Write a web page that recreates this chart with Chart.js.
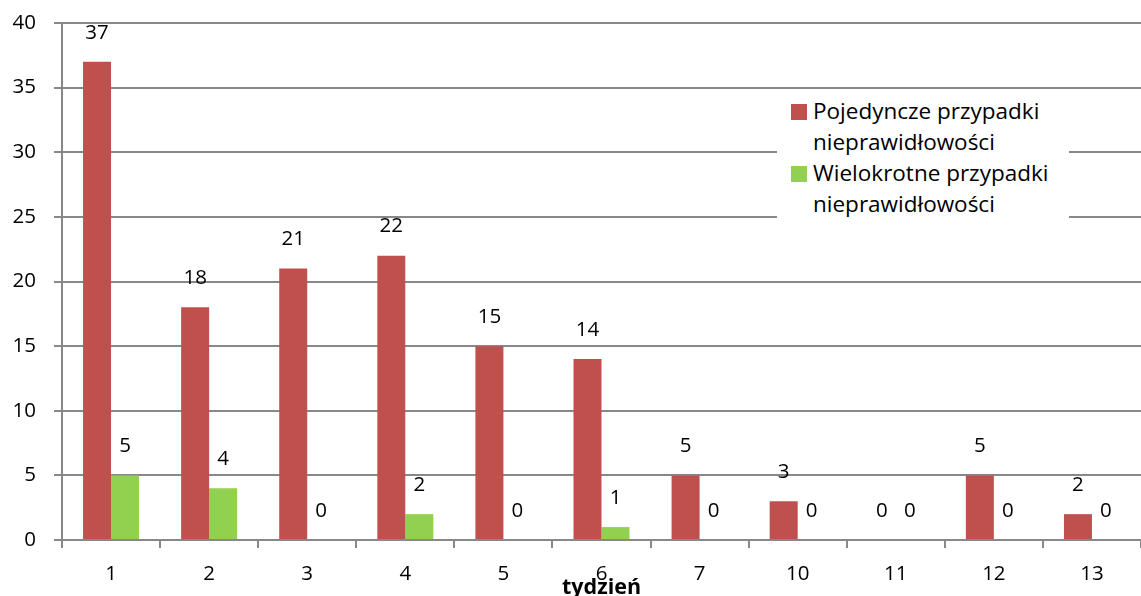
<!DOCTYPE html>
<html>
<head>
<meta charset="utf-8">
<script src="https://cdn.jsdelivr.net/npm/chart.js@4"></script>
<style>
  body { margin: 0; background: #fff; }
  #wrap { position: relative; width: 1141px; height: 596px; }
  #legend {
    position: absolute; left: 777px; top: 91px; width: 292px; height: 132px;
    background: #fff; font-family: "Open Sans", sans-serif; font-size: 22.5px; color: #000;
    line-height: 31px; padding-top: 4px; box-sizing: border-box;
  }
  .item { position: relative; padding-left: 36px; }
  .box { position: absolute; left: 14px; top: 9px; width: 16px; height: 16px; }
</style>
</head>
<body>
<div id="wrap">
  <canvas id="myChart" width="1141" height="596"></canvas>
  <div id="legend">
    <div class="item"><span class="box" style="background:#C0504D"></span>Pojedyncze przypadki<br>nieprawidłowości</div>
    <div class="item"><span class="box" style="background:#92D050"></span>Wielokrotne przypadki<br>nieprawidłowości</div>
  </div>
</div>
<script>
const weeks = ['1', '2', '3', '4', '5', '6', '7', '10', '11', '12', '13'];
const single = [37, 18, 21, 22, 15, 14, 5, 3, 0, 5, 2];
const multiple = [5, 4, 0, 2, 0, 1, 0, 0, 0, 0, 0];
const yTicks = [0, 5, 10, 15, 20, 25, 30, 35, 40];

const ctx = document.getElementById('myChart');

const valueLabels = {
    id: 'valueLabels',
    afterDatasetsDraw(chart) {
        const c = chart.ctx;
        c.save();
        c.font = '20.5px "Open Sans", sans-serif';
        c.fillStyle = '#000';
        c.textAlign = 'center';
        c.textBaseline = 'middle';
        chart.data.datasets.forEach((ds, i) => {
            chart.getDatasetMeta(i).data.forEach((bar, j) => {
                c.fillText(ds.data[j], bar.x, bar.y - 29);
            });
        });
        c.restore();
    }
};

new Chart(ctx, {
    type: 'bar',
    data: {
        labels: weeks,
        datasets: [{
            label: 'Pojedyncze przypadki nieprawidłowości',
            data: single,
            backgroundColor: '#C0504D',
            categoryPercentage: 0.571,
            barPercentage: 1,
        }, {
            label: 'Wielokrotne przypadki nieprawidłowości',
            data: multiple,
            backgroundColor: '#92D050',
            categoryPercentage: 0.571,
            barPercentage: 1,
        }]
    },
    options: {
        responsive: false,
        animation: false,
        layout: { padding: { top: 23, right: 0, left: 0, bottom: 0 } },
        plugins: {
            legend: { display: false },
            tooltip: { enabled: false },
        },
        scales: {
            x: {
                grid: {
                    display: true, drawOnChartArea: false, offset: true,
                    color: '#888', lineWidth: 2, tickLength: 8,
                },
                border: { color: '#888', width: 2 },
                ticks: { color: '#000', font: { family: 'Open Sans', size: 20.5 }, padding: 14 },
                title: {
                    display: true, text: 'tydzień', color: '#000',
                    font: { family: 'Open Sans', size: 21.5, weight: 'bold' }, padding: { top: -16, bottom: -5 },
                },
                afterFit(scale) { scale.height = 56; scale.paddingLeft = 0; scale.paddingRight = 0; },
            },
            y: {
                min: 0, max: 40,
                afterBuildTicks(scale) { scale.ticks = yTicks.map(v => ({ value: v })); },
                grid: { color: '#888', lineWidth: 2, tickLength: 8 },
                border: { color: '#888', width: 2 },
                ticks: { color: '#000', font: { family: 'Open Sans', size: 20.5 }, padding: 18 },
                afterFit(scale) { scale.width = 62; scale.paddingTop = 0; scale.paddingBottom = 0; },
            }
        }
    },
    plugins: [valueLabels]
});
</script>
</body>
</html>
